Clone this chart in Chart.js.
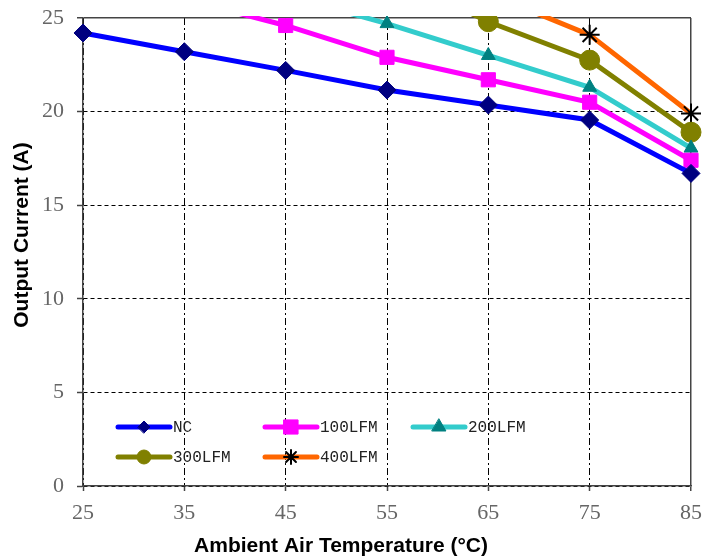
<!DOCTYPE html>
<html>
<head>
<meta charset="utf-8">
<script src="https://cdn.jsdelivr.net/npm/chart.js@4"></script>
<style>
  html, body { margin: 0; padding: 0; background: #fff; }
  #wrap { width: 704px; height: 558px; }
</style>
</head>
<body>
<div id="wrap"><canvas id="myChart" width="704" height="558"></canvas></div>
<script>
// temperatures (deg C)
var temps = [25, 35, 45, 55, 65, 75, 85];
var yTicks = [0, 5, 10, 15, 20, 25];
var xTitle = 'Ambient Air Temperature (°C)';
var yTitle = 'Output Current (A)';

// output current per airflow, values above 25 run off the top of the plot
var nc     = [24.2, 23.2, 22.2, 21.15, 20.35, 19.55, 16.7];
var lfm100 = [null, 26.0, 24.6, 22.9, 21.7, 20.5, 17.4];
var lfm200 = [null, null, 26.2, 24.7, 23.0, 21.3, 18.05];
var lfm300 = [null, null, null, 27.4, 24.8, 22.75, 18.9];
var lfm400 = [null, null, null, null, 26.3, 24.1, 19.9];

function toPoints(vals) {
  var out = [];
  for (var i = 0; i < temps.length; i++) {
    if (vals[i] !== null) out.push({x: temps[i], y: vals[i]});
  }
  return out;
}

function series(label, vals, line, mark, style, radius, borderW, legendR) {
  return {
    label: label,
    data: toPoints(vals),
    borderColor: line,
    backgroundColor: line,
    borderWidth: 5,
    pointStyle: style,
    pointRadius: radius,
    pointHoverRadius: radius,
    pointBackgroundColor: mark,
    pointBorderColor: mark,
    pointBorderWidth: borderW,
    legendRadius: legendR,
    tension: 0,
    clip: {left: 14, right: 14, top: 2, bottom: 14}
  };
}

// legend drawn inside the plot area, two rows
var legendSpots = [[118, 427], [265, 427], [413, 427], [118, 457], [265, 457]];

var insideLegend = {
  id: 'insideLegend',
  afterDraw: function(chart) {
    var ctx = chart.ctx;
    chart.data.datasets.forEach(function(ds, i) {
      var x = legendSpots[i][0], y = legendSpots[i][1];
      ctx.save();
      ctx.lineCap = 'round';
      ctx.strokeStyle = ds.borderColor;
      ctx.lineWidth = 5;
      ctx.beginPath();
      ctx.moveTo(x, y);
      ctx.lineTo(x + 52, y);
      ctx.stroke();
      ctx.fillStyle = ds.pointBackgroundColor;
      ctx.strokeStyle = ds.pointBorderColor;
      ctx.lineWidth = ds.pointBorderWidth;
      Chart.helpers.drawPoint(ctx, {
        pointStyle: ds.pointStyle,
        radius: ds.legendRadius,
        rotation: 0,
        borderWidth: ds.pointBorderWidth
      }, x + 26, y);
      ctx.fillStyle = '#222';
      ctx.font = '16px "Liberation Mono"';
      ctx.textBaseline = 'middle';
      ctx.fillText(ds.label, x + 55, y + 1);
      ctx.restore();
    });

    // axis titles
    ctx.save();
    ctx.fillStyle = '#000';
    ctx.font = 'bold 21px "Liberation Sans", Arial';
    ctx.textAlign = 'center';
    ctx.textBaseline = 'middle';
    ctx.fillText(xTitle, 341, 546);
    ctx.translate(22, 235);
    ctx.rotate(-Math.PI / 2);
    ctx.fillText(yTitle, 0, 0);
    ctx.restore();
  }
};

function edgeDash(limit, dash) {
  return function(c) {
    return (c.tick && c.tick.value === limit) ? [] : dash;
  };
}
function edgeColor(limit) {
  return function(c) {
    return (c.tick && c.tick.value === limit) ? '#444' : '#000';
  };
}

var myChartObject = document.getElementById('myChart');

var chart = new Chart(myChartObject, {
  type: 'line',
  data: {
    datasets: [
      series('NC', nc, '#0000FF', '#000080', 'rectRot', 9, 1, 6),
      series('100LFM', lfm100, '#FF00FF', '#FF00FF', 'rect', 10, 1, 10),
      series('200LFM', lfm200, '#33CCCC', '#008080', 'triangle', 8, 1, 8),
      series('300LFM', lfm300, '#808000', '#808000', 'circle', 10, 1, 7),
      series('400LFM', lfm400, '#FF6600', '#000000', 'star', 10, 2, 7)
    ]
  },
  plugins: [insideLegend],
  options: {
    responsive: false,
    animation: false,
    layout: {padding: {top: 18, right: 13, left: 0, bottom: 0}},
    plugins: {
      legend: {display: false},
      tooltip: {enabled: false}
    },
    scales: {
      x: {
        type: 'linear',
        min: 25,
        max: 85,
        afterBuildTicks: function(axis) {
          axis.ticks = temps.map(function(v) { return {value: v}; });
        },
        afterFit: function(axis) {
          axis.height = 72;
          axis.paddingLeft = 0;
          axis.paddingRight = 0;
        },
        grid: {
          color: edgeColor(85),
          lineWidth: function(c) { return (c.tick && c.tick.value === 85) ? 1.5 : 1; },
          drawTicks: true,
          tickLength: 5,
          tickColor: '#444',
          tickWidth: 1.5,
          tickBorderDash: []
        },
        border: {display: true, color: '#444', width: 1.5, dash: edgeDash(85, [7, 3, 2, 3])},
        ticks: {
          color: '#666',
          padding: 9,
          font: {family: '"Liberation Serif"', size: 22}
        }
      },
      y: {
        min: 0,
        max: 25,
        afterBuildTicks: function(axis) {
          axis.ticks = yTicks.map(function(v) { return {value: v}; });
        },
        afterFit: function(axis) {
          axis.width = 83;
          axis.paddingTop = 0;
          axis.paddingBottom = 0;
        },
        grid: {
          color: edgeColor(25),
          lineWidth: function(c) { return (c.tick && c.tick.value === 25) ? 1.5 : 1; },
          drawTicks: true,
          tickLength: 6,
          tickColor: '#444',
          tickWidth: 1.5,
          tickBorderDash: []
        },
        border: {display: true, color: '#444', width: 1.5, dash: edgeDash(25, [4, 3])},
        ticks: {
          color: '#666',
          padding: 13,
          font: {family: '"Liberation Serif"', size: 22}
        }
      }
    }
  }
});
</script>
</body>
</html>
